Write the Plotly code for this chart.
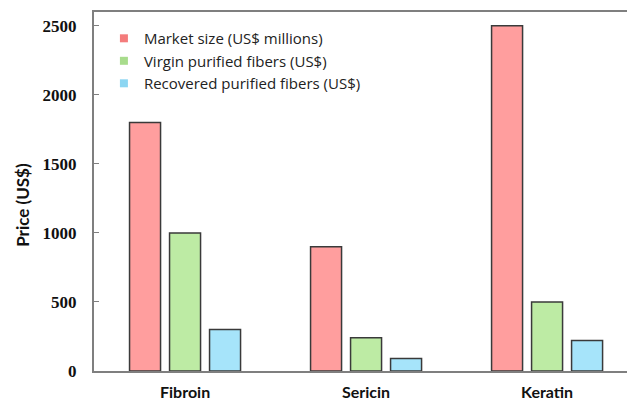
import plotly.graph_objects as go

categories = ["Fibroin", "Sericin", "Keratin"]
market_size = [1800, 900, 2500]
virgin_fibers = [1000, 240, 500]
recovered_fibers = [300, 90, 220]
series_names = ["Market size (US$ millions)", "Virgin purified fibers (US$)", "Recovered purified fibers (US$)"]
colors = ["#FF9E9E", "#BDEBA4", "#A6E4FA"]
legend_colors = ["#F47C7C", "#A8DC8C", "#8CD6F2"]
y_ticks = [0, 500, 1000, 1500, 2000, 2500]

fig = go.Figure()
for name, vals, col in zip(series_names, [market_size, virgin_fibers, recovered_fibers], colors):
    fig.add_trace(go.Bar(
        x=categories, y=vals, name=name, showlegend=False,
        marker=dict(color=col, line=dict(color="#3a3a3a", width=1.5)),
    ))
for name, col in zip(series_names, legend_colors):
    fig.add_trace(go.Scatter(
        x=[None], y=[None], mode="markers", name=name,
        marker=dict(symbol="square", size=8, color=col),
    ))

# figure is a bit wider than the window so the plot runs past the right edge, as in the reference
fig.update_layout(
    width=645, height=400,
    margin=dict(l=94, r=0, t=12, b=29),
    plot_bgcolor="white", paper_bgcolor="white",
    barmode="group", bargap=0.337, bargroupgap=0.225,
    showlegend=True,
    legend=dict(x=0.018, y=0.972, xanchor="left", yanchor="top",
                font=dict(family="Open Sans", size=15, color="#222"),
                bgcolor="rgba(0,0,0,0)", tracegroupgap=0, itemwidth=30),
    annotations=[dict(text="Price (US$)", xref="paper", yref="paper",
                      x=-0.13, y=0.464, xanchor="center", yanchor="middle",
                      textangle=-90, showarrow=False,
                      font=dict(family="Lato", size=17, color="#111", weight="bold"))],
)
fig.update_xaxes(
    range=[-0.503, 2.541], showline=True, linecolor="#7f7f7f", linewidth=2,
    mirror=True, ticks="", showgrid=False, ticklabelstandoff=6,
    tickfont=dict(family="Lato", size=16, color="#111", weight="bold"),
)
fig.update_yaxes(
    range=[0, 2600], tickvals=y_ticks, showline=True, linecolor="#7f7f7f", linewidth=2,
    mirror=False, ticks="inside", ticklen=5, tickcolor="#7f7f7f", showgrid=False, zeroline=False,
    tickfont=dict(family="Liberation Serif", size=17, color="#111", weight="bold"),
    ticklabelstandoff=12,
)
fig.write_html("out.html", config={"displayModeBar": False},
               post_script="document.body.style.margin='0';document.body.style.overflow='hidden';")
